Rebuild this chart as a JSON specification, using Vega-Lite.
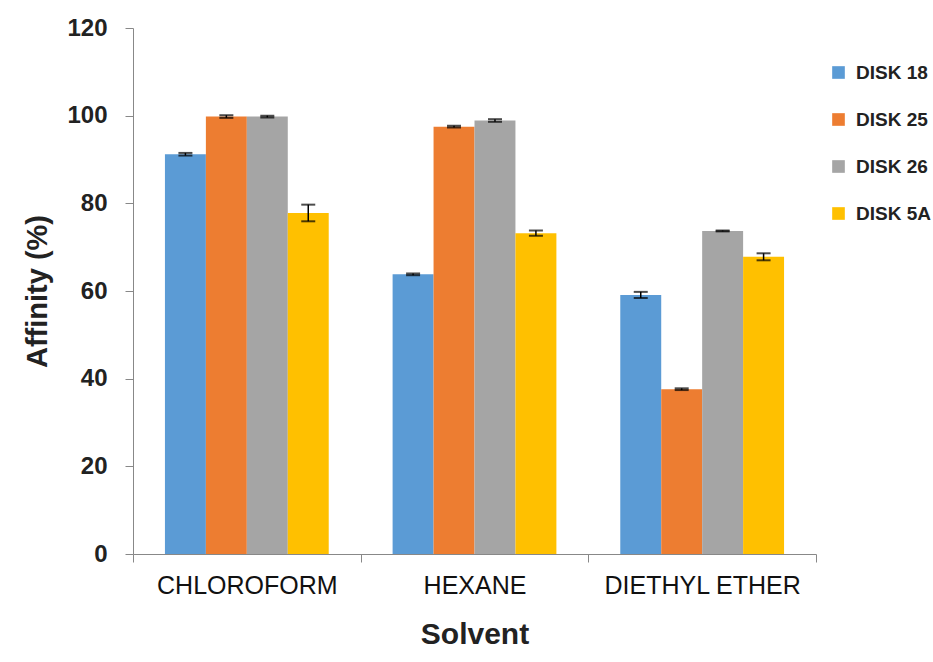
{
  "$schema": "https://vega.github.io/schema/vega-lite/v6.json",
  "width": 683,
  "height": 526,
  "autosize": {"type": "none"},
  "padding": {"left": 133, "top": 28, "right": 117, "bottom": 108},
  "background": "white",
  "data": {
    "values": [
      {"Solvent": "CHLOROFORM", "Disk": "DISK 18", "Affinity": 91.2, "Err": 0.3},
      {"Solvent": "CHLOROFORM", "Disk": "DISK 25", "Affinity": 99.8, "Err": 0.3},
      {"Solvent": "CHLOROFORM", "Disk": "DISK 26", "Affinity": 99.8, "Err": 0.2},
      {"Solvent": "CHLOROFORM", "Disk": "DISK 5A", "Affinity": 77.8, "Err": 1.9},
      {"Solvent": "HEXANE", "Disk": "DISK 18", "Affinity": 63.8, "Err": 0.2},
      {"Solvent": "HEXANE", "Disk": "DISK 25", "Affinity": 97.5, "Err": 0.2},
      {"Solvent": "HEXANE", "Disk": "DISK 26", "Affinity": 98.9, "Err": 0.3},
      {"Solvent": "HEXANE", "Disk": "DISK 5A", "Affinity": 73.2, "Err": 0.6},
      {"Solvent": "DIETHYL ETHER", "Disk": "DISK 18", "Affinity": 59.1, "Err": 0.7},
      {"Solvent": "DIETHYL ETHER", "Disk": "DISK 25", "Affinity": 37.6, "Err": 0.2},
      {"Solvent": "DIETHYL ETHER", "Disk": "DISK 26", "Affinity": 73.7, "Err": 0.1},
      {"Solvent": "DIETHYL ETHER", "Disk": "DISK 5A", "Affinity": 67.8, "Err": 0.8}
    ]
  },
  "encoding": {
    "x": {
      "field": "Solvent",
      "type": "nominal",
      "sort": null,
      "title": "Solvent",
      "scale": {"paddingInner": 0, "paddingOuter": 0},
      "axis": {
        "labelAngle": 0,
        "labelLimit": 400,
        "tickBand": "extent",
        "tickSize": 8,
        "tickColor": "#888888",
        "domainColor": "#888888",
        "labelFont": "Liberation Sans",
        "labelFontSize": 25,
        "labelColor": "#111111",
        "labelPadding": 11,
        "titleFont": "Liberation Sans",
        "titleFontSize": 30,
        "titleFontWeight": "bold",
        "titleColor": "#222222",
        "titlePadding": 21
      }
    },
    "xOffset": {
      "field": "Disk",
      "type": "nominal",
      "scale": {"paddingInner": 0, "paddingOuter": 0.78}
    }
  },
  "layer": [
    {
      "mark": {"type": "bar"},
      "encoding": {
        "y": {
          "field": "Affinity",
          "type": "quantitative",
          "title": "Affinity (%)",
          "scale": {"domain": [0, 120]},
          "axis": {
            "values": [0, 20, 40, 60, 80, 100, 120],
            "grid": false,
            "tickSize": 8,
            "tickColor": "#888888",
            "domainColor": "#888888",
            "labelFont": "Liberation Sans",
            "labelFontSize": 24,
            "labelFontWeight": "bold",
            "labelColor": "#222222",
            "labelPadding": 18,
            "titleFont": "Liberation Sans",
            "titleFontSize": 29,
            "titleFontWeight": "bold",
            "titleColor": "#222222",
            "titlePadding": 14
          }
        },
        "color": {
          "field": "Disk",
          "type": "nominal",
          "title": null,
          "scale": {
            "domain": ["DISK 18", "DISK 25", "DISK 26", "DISK 5A"],
            "range": ["#5B9BD5", "#ED7D31", "#A5A5A5", "#FFC000"]
          },
          "legend": {
            "orient": "none",
            "legendX": 696,
            "legendY": 35,
            "symbolType": "square",
            "symbolSize": 160,
            "symbolStrokeWidth": 0,
            "labelFont": "Liberation Sans",
            "labelFontSize": 19,
            "labelFontWeight": "bold",
            "labelColor": "#222222",
            "labelOffset": 8,
            "rowPadding": 27
          }
        }
      }
    },
    {
      "mark": {
        "type": "errorbar",
        "color": "black",
        "thickness": 1.5,
        "ticks": {"size": 14, "color": "black", "thickness": 2}
      },
      "encoding": {
        "y": {"field": "Affinity", "type": "quantitative", "title": "Affinity (%)"},
        "yError": {"field": "Err"}
      }
    }
  ],
  "config": {
    "view": {"stroke": null}
  }
}
